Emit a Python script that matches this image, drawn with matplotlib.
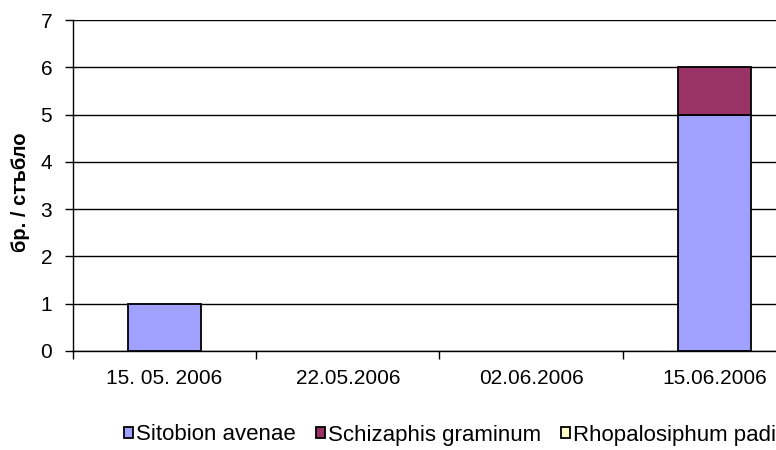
import numpy as np
import matplotlib.pyplot as plt

dates = ["15. 05. 2006", "22.05.2006", "02.06.2006", "15.06.2006"]
sitobion = [1, 0, 0, 5]
schizaphis = [0, 0, 0, 1]
rhopalosiphum = [0, 0, 0, 0]

plt.rcParams["font.family"] = ["Liberation Sans", "DejaVu Sans"]

fig = plt.figure(figsize=(7.76, 4.5), dpi=100)
ax = fig.add_axes([73 / 776, 1 - 351 / 450, 733 / 776, 331 / 450])

x = np.arange(len(dates))
w = 0.4
s1 = np.array(sitobion, dtype=float)
s2 = np.array(schizaphis, dtype=float)
s3 = np.array(rhopalosiphum, dtype=float)


def nz(v):
    # zero-height segments are not drawn in the original
    return np.where(v == 0, np.nan, v)


ax.bar(x, nz(s1), w, color="#a0a0ff", edgecolor="black", linewidth=1.3,
       label="Sitobion avenae", zorder=3)
ax.bar(x, nz(s2), w, bottom=s1, color="#993366", edgecolor="black", linewidth=1.3,
       label="Schizaphis graminum", zorder=3)
ax.bar(x, nz(s3), w, bottom=s1 + s2, color="#ffffcc", edgecolor="black", linewidth=1.3,
       label="Rhopalosiphum padi", zorder=3)

ax.set_xlim(-0.5, 3.5)
ax.set_ylim(0, 7)
ax.set_yticks(range(8))
ax.yaxis.grid(True, color="black", linewidth=1)
ax.set_axisbelow(True)

ax.set_xticks(x)
ax.set_xticklabels(dates, fontsize=15)
ax.set_xticks(np.arange(-0.5, 4, 1), minor=True)
ax.tick_params(axis="x", which="major", length=0, pad=13)
ax.tick_params(axis="x", which="minor", length=6, width=1, direction="out")
ax.tick_params(axis="y", labelsize=15, length=6, width=1, direction="out", pad=9)

for side in ["top", "right"]:
    ax.spines[side].set_visible(False)
ax.spines["left"].set_linewidth(1)
ax.spines["bottom"].set_linewidth(1)

ax.set_ylabel("бр. / стъбло", fontsize=14.5, fontweight="bold")
ax.yaxis.set_label_coords((30 - 73) / 733, 0.48)

handles, labels = ax.get_legend_handles_labels()
fig.legend(handles, labels, loc="center", bbox_to_anchor=(450 / 776, 1 - 435 / 450),
           ncol=3, frameon=False, fontsize=16, handlelength=0.4, handleheight=0.4,
           handletextpad=0.15, columnspacing=0.9, borderpad=0.2)

fig.savefig("out.png", dpi=100)
